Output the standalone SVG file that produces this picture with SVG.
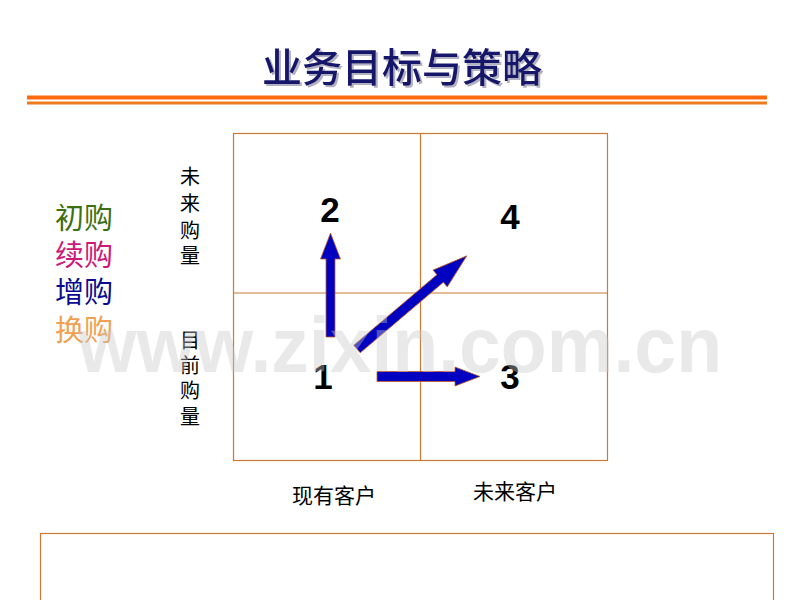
<svg xmlns="http://www.w3.org/2000/svg" width="800" height="600" viewBox="0 0 800 600">
<defs>
<filter id="shadow" x="-10%" y="-20%" width="120%" height="150%">
<feDropShadow dx="2" dy="2" stdDeviation="0.6" flood-color="#9090a8" flood-opacity="0.7"/>
</filter>
</defs>
<style>
.cjk{font-family:"Noto Sans CJK SC","Noto Sans CJK JP",sans-serif;}
.num{font-family:"Liberation Sans",Arial,sans-serif;font-weight:bold;font-size:35px;fill:#000;text-anchor:middle;}
.vl{font-family:"Noto Sans CJK SC",sans-serif;font-size:20px;fill:#000;text-anchor:middle;}
.ax{font-family:"Noto Sans CJK SC",sans-serif;font-size:21px;fill:#000;}
.lg{font-family:"Noto Sans CJK SC",sans-serif;font-size:29px;}
.grid{fill:none;stroke:#cc7a33;stroke-width:1.2;}
.arrow{fill:#0000c0;stroke:#c06020;stroke-width:0.8;stroke-linejoin:miter;}
</style>
<rect width="800" height="600" fill="#fff"/>
<g id="title">
<text x="402" y="82" class="cjk" font-size="40" font-weight="500" fill="#14146a" text-anchor="middle" filter="url(#shadow)">业务目标与策略</text>
<rect x="27" y="95.5" width="740" height="4" fill="#ff6a10"/>
<rect x="27" y="101.5" width="740" height="3" fill="#ee7a20"/>
</g>
<g id="legend">
<text x="55" y="229" class="lg" fill="#3d7012">初购</text>
<text x="55" y="266" class="lg" fill="#cc1877">续购</text>
<text x="55" y="303" class="lg" fill="#0a0a8e">增购</text>
<text x="55" y="341" class="lg" fill="#f0a050">换购</text>
</g>
<g id="yaxis-future">
<text x="190" y="184" class="vl">未</text>
<text x="190" y="211" class="vl">来</text>
<text x="190" y="238" class="vl">购</text>
<text x="190" y="263" class="vl">量</text>
</g>
<g id="yaxis-current">
<text x="190" y="348" class="vl">目</text>
<text x="190" y="373" class="vl">前</text>
<text x="190" y="398" class="vl">购</text>
<text x="190" y="424" class="vl">量</text>
</g>
<g id="matrix">
<rect x="233.5" y="133.5" width="374" height="327" class="grid"/>
<line x1="420.5" y1="133.5" x2="420.5" y2="460.5" class="grid"/>
<line x1="233.5" y1="293" x2="607.5" y2="293" class="grid"/>
</g>
<g id="q2"><text x="330" y="222" class="num">2</text></g>
<g id="q4"><text x="510" y="229" class="num">4</text></g>
<g id="q1"><text x="323" y="389" class="num">1</text></g>
<g id="q3"><text x="510" y="389" class="num">3</text></g>
<g id="connectors">
<polygon class="arrow" points="326,337 335,337 335,259 340.5,259 330.5,233 320.5,259 326,259"/>
<polygon class="arrow" points="377,371.5 455,371.5 455,367 480,376.5 455,386 455,381.5 377,381.5"/>
<polygon class="arrow" transform="translate(357,349) rotate(-40.3)" points="0,-5 109,-5 109,-11 144,0 109,11 109,5 0,5"/>
</g>
<g id="xaxis">
<text x="292" y="503" class="ax">现有客户</text>
<text x="473" y="499" class="ax">未来客户</text>
</g>
<g id="notes">
<rect x="40.5" y="533.5" width="733" height="80" class="grid"/>
</g>
<text x="78" y="372" font-family="Liberation Sans,Arial,sans-serif" font-weight="bold" font-size="78" fill="#c8c8c8" fill-opacity="0.4" textLength="644" lengthAdjust="spacingAndGlyphs">www.zixin.com.cn</text>
</svg>
